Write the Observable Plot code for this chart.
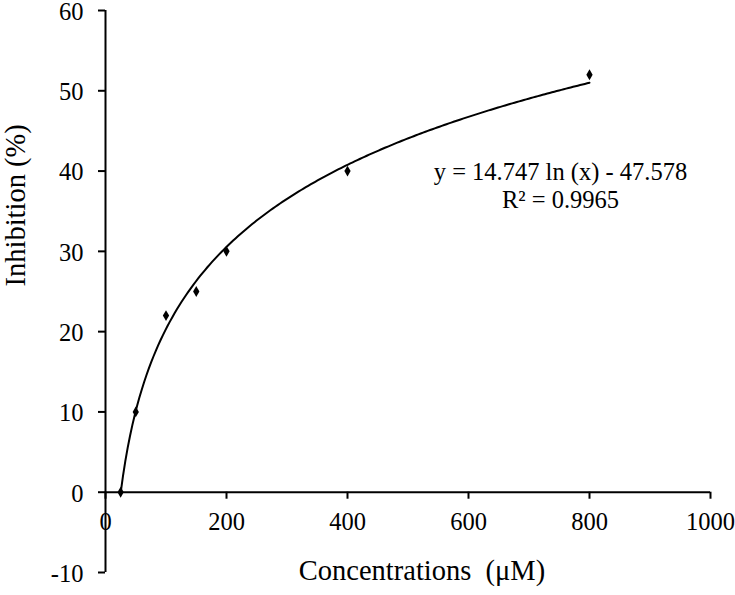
<!DOCTYPE html>
<html>
<head>
<meta charset="utf-8">
<script src="https://cdn.jsdelivr.net/npm/d3@7"></script>
<script src="https://cdn.jsdelivr.net/npm/@observablehq/plot@0.6"></script>
<style>
  html, body { margin: 0; padding: 0; background: #fff; }
</style>
</head>
<body>
<div id="chart"></div>
<script>
// Data
const concentrations = [25, 50, 100, 150, 200, 400, 800];
const inhibition = [0, 10, 22, 25, 30, 40, 52];
// Logarithmic trendline as printed on the chart
const fitSlope = 14.747;
const fitIntercept = -47.578;
const fitR2 = 0.9965;
// Axis ticks
const xTicks = [0, 200, 400, 600, 800, 1000];
const yTicks = [-10, 0, 10, 20, 30, 40, 50, 60];
const xTitle = "Concentrations  (\u03bcM)";
const yTitle = "Inhibition (%)";
const eqLabel = `y = ${fitSlope} ln (x) - ${Math.abs(fitIntercept)}\nR\u00b2 = ${fitR2}`;
const eqPos = {x: 752, y: 38.3};

const points = concentrations.map((c, i) => ({x: c, y: inhibition[i]}));
const xMin = d3.min(concentrations), xMax = d3.max(concentrations);
const trend = d3.range(0, 201).map(i => {
  const x = xMin + (xMax - xMin) * i / 200;
  return {x, y: fitSlope * Math.log(x) + fitIntercept};
});

const chart = Plot.plot({
  width: 735,
  height: 595,
  marginLeft: 105,
  marginRight: 25,
  marginTop: 10,
  marginBottom: 23,
  style: {fontFamily: "'Liberation Serif', 'Times New Roman', serif", fontSize: "24px", color: "#000", background: "#fff"},
  x: {domain: [0, 1000], axis: null},
  y: {domain: [-10, 60], axis: null},
  marks: [
    Plot.ruleX([0], {stroke: "#000", strokeWidth: 2}),
    Plot.ruleY([0], {stroke: "#000", strokeWidth: 2}),
    Plot.axisY(yTicks, {tickSize: 7, strokeWidth: 2, text: null, label: null}),
    Plot.text(yTicks, {x: () => 0, y: d => d, dx: -22, dy: 1.5, text: d => String(d), textAnchor: "end", fontSize: 24.5, fill: "#000"}),
    Plot.ruleX(xTicks, {x: d => d, y1: () => 0, y2: () => 0, insetBottom: -7, stroke: "#000", strokeWidth: 2}),
    Plot.text(xTicks, {x: d => d, y: () => 0, dy: 30, text: d => String(d), fontSize: 24.5, fill: "#000"}),
    Plot.line(trend, {x: "x", y: "y", stroke: "#000", strokeWidth: 2}),
    Plot.dot(points, {x: "x", y: "y", symbol: "diamond", r: 3.3, fill: "#000", stroke: null}),
    Plot.text([eqLabel], {x: () => eqPos.x, y: () => eqPos.y, text: d => d, fontSize: 24.5, lineHeight: 1.18, textAnchor: "middle", fill: "#000"}),
    Plot.text([xTitle], {frameAnchor: "bottom", dx: 14, dy: 7, text: d => d, fontSize: 28.5, fill: "#000"}),
    Plot.text([yTitle], {frameAnchor: "left", rotate: -90, dx: -90, dy: -5, text: d => d, fontSize: 28.5, fill: "#000"})
  ]
});
document.getElementById("chart").appendChild(chart);
</script>
</body>
</html>
